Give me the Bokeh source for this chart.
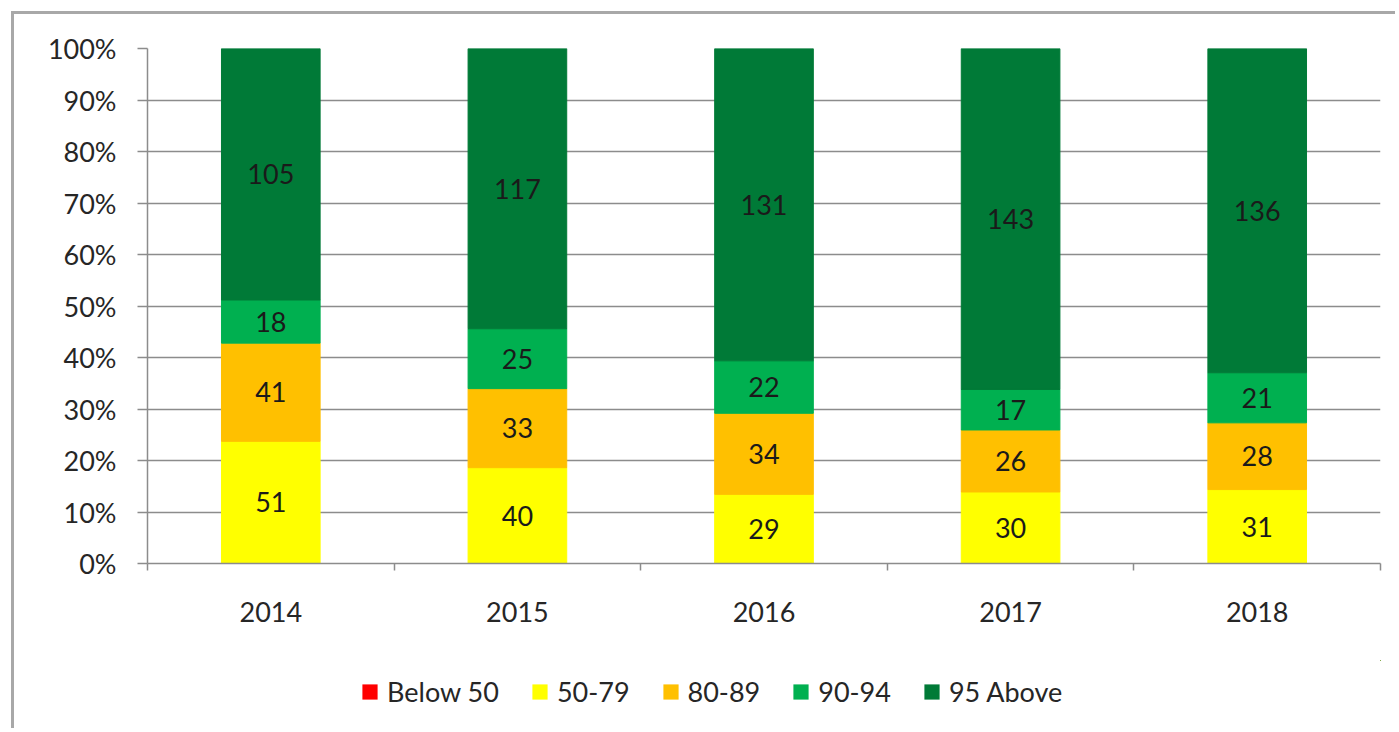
from bokeh.plotting import figure
from bokeh.layouts import column
from bokeh.models import (ColumnDataSource, FixedTicker, Legend, LegendItem,
                          PrintfTickFormatter, Range1d)
from bokeh.core.properties import value
from bokeh.embed import file_html
from bokeh.resources import INLINE

# ---------------- data ----------------
years = ["2014", "2015", "2016", "2017", "2018"]
series = ["Below 50", "50-79", "80-89", "90-94", "95 Above"]
below_50 = [0, 0, 0, 0, 0]
s50_79 = [51, 40, 29, 30, 31]
s80_89 = [41, 33, 34, 26, 28]
s90_94 = [18, 25, 22, 17, 21]
s95_above = [105, 117, 131, 143, 136]
y_ticks = [0, 10, 20, 30, 40, 50, 60, 70, 80, 90, 100]
colors = ["#FF0000", "#FFFF00", "#FFC000", "#00B050", "#007A37"]

FONT = "Lato"
TXT = "#262626"
GRID = "#8c8c8c"
W = 1395

counts = [below_50, s50_79, s80_89, s90_94, s95_above]
keys = ["below_50", "s50_79", "s80_89", "s90_94", "s95_above"]
n = len(years)
totals = [sum(c[i] for c in counts) for i in range(n)]
xs = list(range(n))

data = {"x": xs}
for k, c in zip(keys, counts):
    data[k] = [100.0 * v / t for v, t in zip(c, totals)]
src = ColumnDataSource(data)

# label positions (segment centres)
lx, ly, lt = [], [], []
for i in range(n):
    base = 0.0
    for k, c in zip(keys, counts):
        h = data[k][i]
        if c[i] > 0:
            lx.append(xs[i])
            ly.append(base + h / 2.0)
            lt.append(str(c[i]))
        base += h
lab_src = ColumnDataSource(dict(x=lx, y=ly, text=lt))

# ---------------- main chart ----------------
p = figure(width=W, height=660,
           x_range=Range1d(-0.5, n - 0.5), y_range=Range1d(0, 100),
           output_backend="svg", toolbar_location=None,
           min_border_left=147, min_border_right=15,
           min_border_top=48, min_border_bottom=97)
p.border_fill_alpha = 0
p.background_fill_color = "white"
p.outline_line_color = None

renderers = p.vbar_stack(keys, x="x", width=0.4, color=colors, source=src)

p.text(x="x", y="y", text="text", source=lab_src,
       text_align="center", text_baseline="middle",
       text_font=value(FONT), text_font_size="27px", text_color="#1a1a1a")

# y axis
p.yaxis.ticker = FixedTicker(ticks=y_ticks)
p.yaxis.formatter = PrintfTickFormatter(format="%d%%")
p.yaxis.major_tick_out = 10
p.yaxis.major_tick_in = 0
p.yaxis.minor_tick_line_color = None
p.yaxis.axis_line_color = GRID
p.yaxis.axis_line_width = 1.5
p.yaxis.major_tick_line_color = GRID
p.yaxis.major_tick_line_width = 1.5
p.yaxis.major_label_standoff = 21

# x axis
p.xaxis.ticker = FixedTicker(ticks=xs, minor_ticks=[i - 0.5 for i in range(n + 1)])
p.xaxis.major_label_overrides = {i: y for i, y in zip(xs, years)}
p.xaxis.major_tick_out = 0
p.xaxis.major_tick_in = 0
p.xaxis.minor_tick_out = 7
p.xaxis.minor_tick_in = 0
p.xaxis.minor_tick_line_color = GRID
p.xaxis.minor_tick_line_width = 1.5
p.xaxis.axis_line_color = GRID
p.xaxis.axis_line_width = 1.5
p.xaxis.major_label_standoff = 31

for ax in (p.xaxis, p.yaxis):
    ax.major_label_text_font = FONT
    ax.major_label_text_font_size = "27px"
    ax.major_label_text_color = TXT

p.xgrid.visible = False
p.ygrid.grid_line_color = GRID
p.ygrid.grid_line_width = 1.5

# ---------------- legend strip ----------------
# same stacked series; this strip's ranges lie away from the bars, so only the legend shows
lg = figure(width=W, height=68, output_backend="svg", toolbar_location=None,
            x_axis_location=None, y_axis_location=None,
            min_border=0, x_range=Range1d(-20, -19), y_range=Range1d(-60, -59))
lg.border_fill_alpha = 0
lg.background_fill_alpha = 0
lg.outline_line_color = None
lg.grid.visible = False
lg_renderers = lg.vbar_stack(keys, x="x", width=0.4, fill_color=colors,
                             line_alpha=0, source=src)

legend = Legend(items=[LegendItem(label=s, renderers=[r]) for s, r in zip(series, lg_renderers)],
                orientation="horizontal", location=(213, 20),
                glyph_width=19, glyph_height=19, label_standoff=8, spacing=31,
                padding=0, margin=0, border_line_alpha=0, background_fill_alpha=0,
                label_text_font=FONT, label_text_font_size="27px",
                label_text_color=TXT, label_height=32)
lg.add_layout(legend, "center")

layout = column(p, lg, spacing=0)
layout.styles = {"box-shadow": "inset 11px 11px 0 0 #ffffff, inset 14px 14px 0 0 #a8a8a8"}

open("out.html", "w").write(file_html(layout, INLINE))
